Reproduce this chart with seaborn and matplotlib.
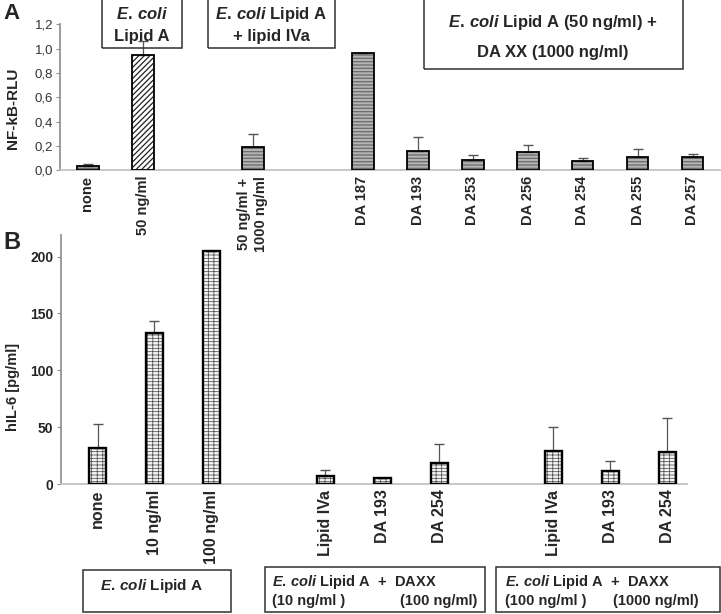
import numpy as np
import pandas as pd
import matplotlib
matplotlib.use("Agg")
import matplotlib.pyplot as plt
from matplotlib.patches import Rectangle
import seaborn as sns

# %% data
# panel A: NF-kB reporter (None = empty slot on the axis)
a_labels = ["none", "50 ng/ml", None, "50 ng/ml +\n1000 ng/ml", None,
            "DA 187", "DA 193", "DA 253", "DA 256", "DA 254", "DA 255", "DA 257"]
a_values = [0.038, 0.947, None, 0.194, None,
            0.966, 0.161, 0.082, 0.153, 0.074, 0.109, 0.109]
a_errors = [0.014, 0.113, None, 0.102, None,
            0.0, 0.113, 0.044, 0.055, 0.027, 0.063, 0.027]
a_fill = ["stripe", "diag", None, "stripe", None,
          "stripe", "stripe", "stripe", "stripe", "stripe", "stripe", "stripe"]
a_yticks = [0.0, 0.2, 0.4, 0.6, 0.8, 1.0, 1.2]
a_yticklabels = ["0,0", "0,2", "0,4", "0,6", "0,8", "1,0", "1,2"]

# panel B: hIL-6
b_labels = ["none", "10 ng/ml", "100 ng/ml", None,
            "Lipid IVa", "DA 193", "DA 254", None,
            "Lipid IVa", "DA 193", "DA 254"]
b_values = [31.9, 132.9, 205.0, None, 7.3, 5.0, 18.7, None, 29.0, 11.1, 28.4]
b_errors = [20.5, 10.9, 0.0, None, 5.3, 0.0, 16.4, None, 20.8, 9.4, 29.3]
b_yticks = [0, 50, 100, 150, 200]

# %% style
sns.set_theme(style="white")
plt.rcParams["font.family"] = ["Liberation Sans", "DejaVu Sans"]
plt.rcParams["mathtext.fontset"] = "custom"
plt.rcParams["mathtext.it"] = "Liberation Sans:italic:bold"
plt.rcParams["mathtext.rm"] = "Liberation Sans:bold"
plt.rcParams["hatch.linewidth"] = 0.9

W, H = 721, 614


def fx(px):
    return px / W


def fy(py):
    return 1 - py / H


def make_df(labels, values, errors):
    slots = [f"s{i}" for i in range(len(labels))]
    rows = [(s, v, e) for s, v, e in zip(slots, values, errors) if v is not None]
    return slots, pd.DataFrame(rows, columns=["slot", "value", "err"])


def style_bars(ax, styles):
    for p in list(ax.patches):
        idx = int(round(p.get_x() + p.get_width() / 2))
        kind = styles[idx]
        hlw = 0.9
        if kind == "stripe":
            p.set_facecolor("#b4b4b4")
            p.set_hatch("-----")
            p.set_edgecolor("#6a6a6a")
        elif kind == "diag":
            p.set_facecolor("white")
            p.set_hatch("//////")
            p.set_edgecolor("#222222")
        elif kind == "brick":
            p.set_facecolor("#f4f4f4")
            p.set_hatch("-----|||")
            p.set_edgecolor("#505050")
            hlw = 0.55
        if hasattr(p, "set_hatch_linewidth"):
            p.set_hatch_linewidth(hlw)
        p.set_linewidth(0)
        lw = 1.3 if kind != "brick" else 1.7
        ax.add_patch(Rectangle(p.get_xy(), p.get_width(), p.get_height(),
                               fill=False, ec="black", lw=lw, zorder=3))


def style_axis(ax, n, shift):
    # bars sit at integer positions; category boundaries are offset by `shift`
    ax.set_xlim(-0.5 - shift, n - 0.5 - shift)
    ax.set_xticks(np.arange(-0.5 - shift, n, 1.0), minor=True)
    ax.tick_params(axis="x", which="major", length=0, pad=4)
    ax.tick_params(axis="x", which="minor", length=4, color="#b0b0b0", width=0.8)
    ax.tick_params(axis="y", which="major", length=3, color="#909090", width=0.8,
                   left=True, pad=2)
    sns.despine(ax=ax)
    ax.spines["left"].set_color("#909090")
    ax.spines["bottom"].set_color("#c0c0c0")
    ax.set_facecolor("none")
    ax.set_xlabel("")
    ax.set_ylabel("")


fig = plt.figure(figsize=(W / 100, H / 100), dpi=100)

# %% panel A
ax_a = fig.add_axes([fx(60), fy(170.3), fx(720) - fx(60), fy(24.3) - fy(170.3)])
a_slots, a_df = make_df(a_labels, a_values, a_errors)
sns.barplot(data=a_df, x="slot", y="value", order=a_slots, width=0.4,
            errorbar=None, ax=ax_a)
style_bars(ax_a, a_fill)
a_pos = [a_slots.index(s) for s in a_df["slot"]]
ax_a.errorbar(a_pos, a_df["value"], yerr=[np.zeros(len(a_df)), a_df["err"]],
              fmt="none", ecolor="#555555", elinewidth=0.9, capsize=3.5, zorder=2)
ax_a.set_ylim(0, 1.2)
ax_a.set_yticks(a_yticks)
ax_a.set_yticklabels(a_yticklabels, fontsize=9.5, color="#333333")
style_axis(ax_a, len(a_slots), 0.0)
ax_a.set_xticks(range(len(a_slots)))
ax_a.set_xticklabels([l or "" for l in a_labels], rotation=90, fontsize=10.5,
                     fontweight="bold", va="top", ha="center")

# %% panel B
ax_b = fig.add_axes([fx(60.5), fy(484), fx(687) - fx(60.5), fy(235) - fy(484)])
b_slots, b_df = make_df(b_labels, b_values, b_errors)
sns.barplot(data=b_df, x="slot", y="value", order=b_slots, width=0.3,
            errorbar=None, ax=ax_b)
style_bars(ax_b, ["brick"] * len(b_slots))
b_pos = [b_slots.index(s) for s in b_df["slot"]]
ax_b.errorbar(b_pos, b_df["value"], yerr=[np.zeros(len(b_df)), b_df["err"]],
              fmt="none", ecolor="#555555", elinewidth=0.9, capsize=3.5, zorder=2)
ax_b.set_ylim(0, 219)
ax_b.set_yticks(b_yticks)
ax_b.set_yticklabels([str(t) for t in b_yticks], fontsize=10, fontweight="bold")
style_axis(ax_b, len(b_slots), 0.15)
ax_b.set_xticks(range(len(b_slots)))
ax_b.set_xticklabels([l or "" for l in b_labels], rotation=90, fontsize=11.5,
                     fontweight="bold", va="top", ha="center")

# %% labels and boxes
fig.text(fx(3), fy(3), "A", fontsize=16, fontweight="bold", va="top", ha="left")
fig.text(fx(3), fy(231), "B", fontsize=17, fontweight="bold", va="top", ha="left")
fig.text(fx(13), fy(108), "NF-kB-RLU", rotation=90, fontsize=11, fontweight="bold",
         ha="center", va="center")
fig.text(fx(13), fy(387), "hIL-6 [pg/ml]", rotation=90, fontsize=10.5, fontweight="bold",
         ha="center", va="center")


def box(x0, y0, x1, y1):
    fig.add_artist(Rectangle((fx(x0), fy(y1)), fx(x1) - fx(x0), fy(y0) - fy(y1),
                             transform=fig.transFigure, fill=False,
                             ec="#303030", lw=1.1))


def txt(x, y, s, ha="center", size=12):
    fig.text(fx(x), fy(y), s, fontsize=size, fontweight="bold", ha=ha, va="center")


ECOLI = r"$E.\,coli$"

box(102, -2, 182, 48)
txt(142, 14, ECOLI)
txt(142, 36, "Lipid A")

box(208, -2, 335, 48)
txt(271, 14, ECOLI + " Lipid A")
txt(271, 36, "+ lipid IVa")

box(424, -2, 683, 69)
txt(553, 23, ECOLI + " Lipid A (50 ng/ml) +")
txt(553, 53, "DA XX (1000 ng/ml)")

box(83, 570, 231, 612)
txt(152, 586, ECOLI + " Lipid A", size=11)

box(265, 567, 485, 612)
txt(272, 582, ECOLI + " Lipid A  +  DAXX", ha="left", size=10.5)
txt(272, 601, "(10 ng/ml )", ha="left", size=10.5)
txt(400, 601, "(100 ng/ml)", ha="left", size=10.5)

box(496, 567, 720, 612)
txt(505, 582, ECOLI + " Lipid A  +  DAXX", ha="left", size=10.5)
txt(505, 601, "(100 ng/ml )", ha="left", size=10.5)
txt(613, 601, "(1000 ng/ml)", ha="left", size=10.5)

fig.savefig("out.png", dpi=100)
